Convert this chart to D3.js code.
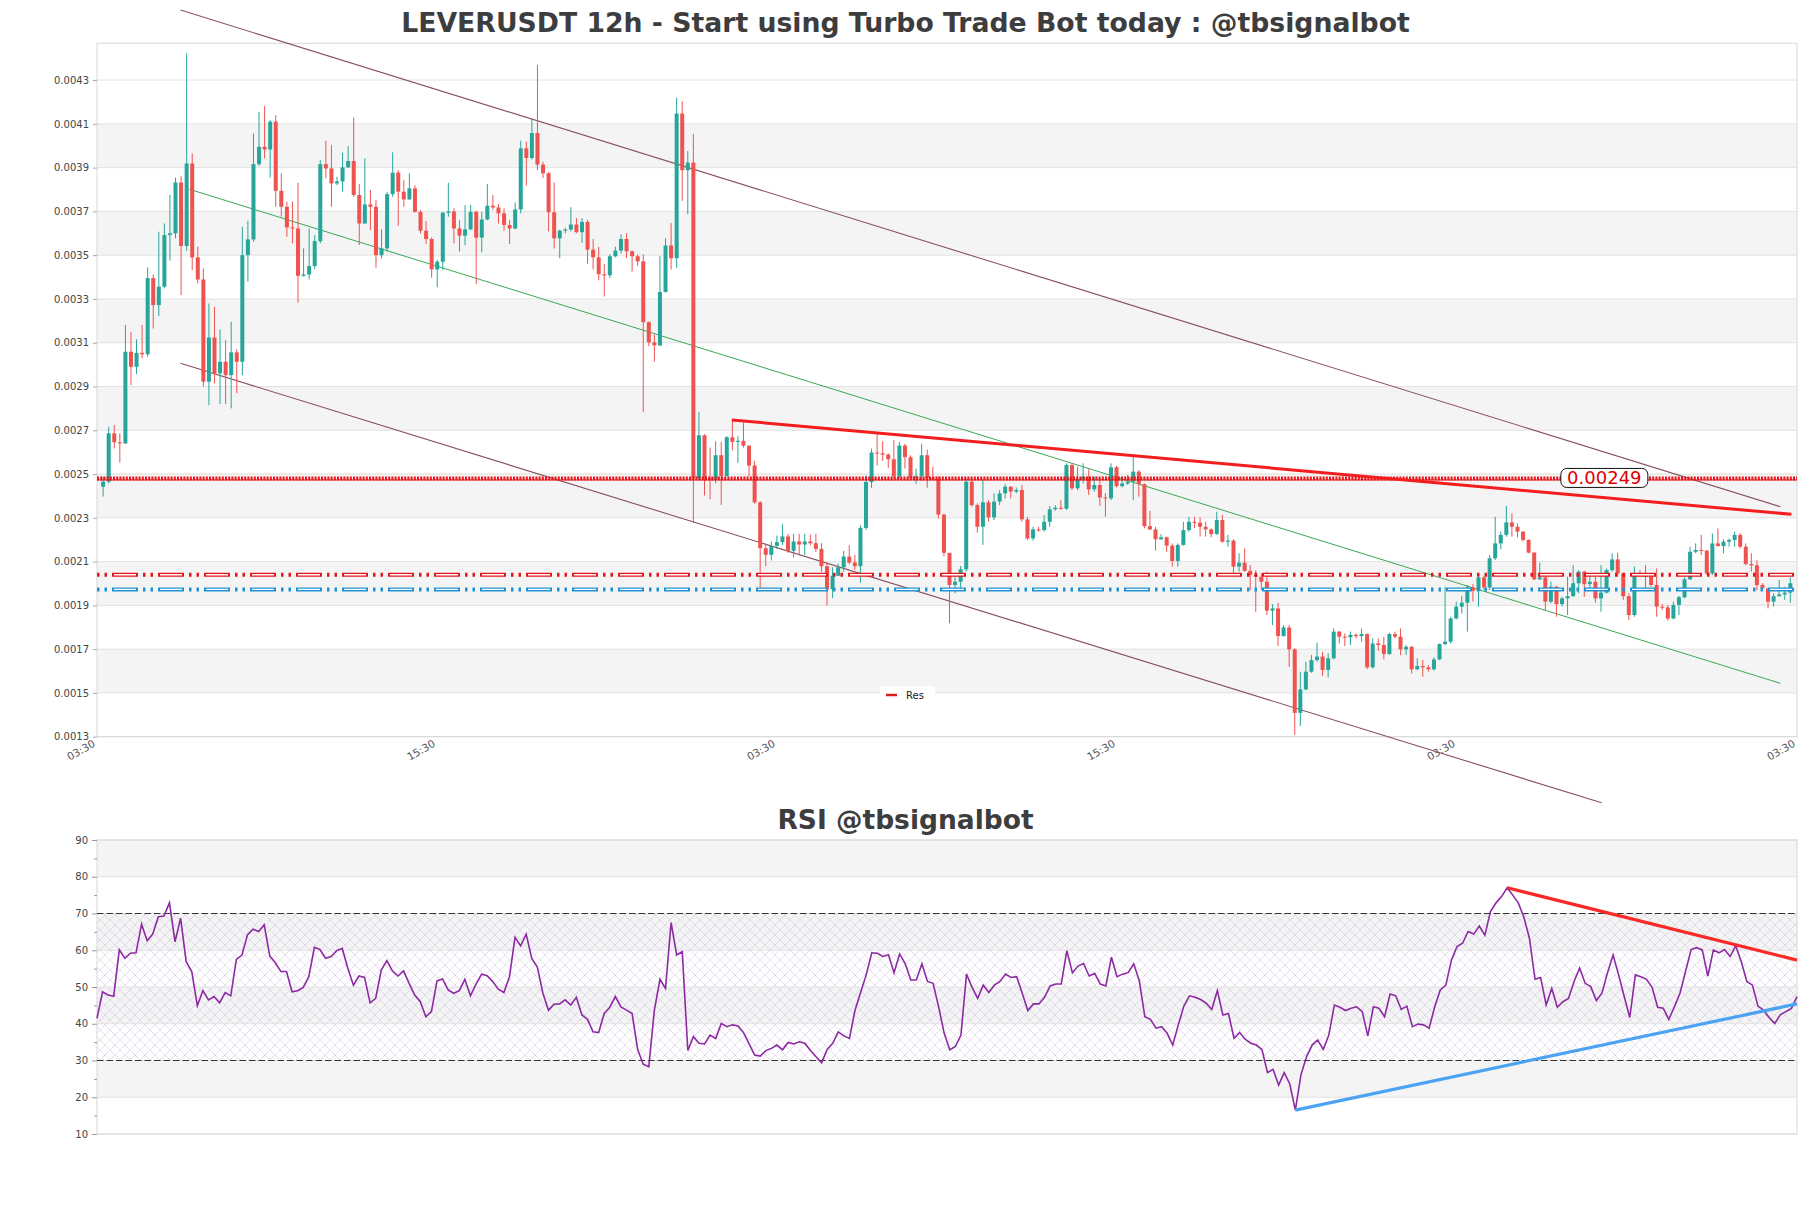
<!DOCTYPE html>
<html>
<head>
<meta charset="utf-8">
<script src="https://cdn.jsdelivr.net/npm/d3@7.9.0/dist/d3.min.js"></script>
<style>
  body { margin: 0; background: #fff; }
  svg { display: block; font-family: "DejaVu Sans", sans-serif; }
</style>
</head>
<body>
<svg id="chart" width="1811" height="1208"></svg>
<script>
// candles, one every 12h (price in USDT)
const opens = [.002442,
.002465,.002686,.002645,.002640,.003059,.002990,.003054,.003047,.003395,.003272,
.003356,.003592,.003600,.003832,.003542,.003919,.003490,.003389,.002922,.003124,
.002960,.003013,.002952,.003056,.003013,.003500,.003572,.003916,.003995,.003983,
.004110,.003794,.003721,.003627,.003622,.003406,.003412,.003450,.003564,.003916,
.003896,.003828,.003837,.003901,.003930,.003775,.003645,.003732,.003721,.003500,
.003531,.003779,.003877,.003790,.003755,.003805,.003698,.003612,.003574,.003435,
.003470,.003694,.003700,.003622,.003589,.003618,.003698,.003580,.003663,.003726,
.003718,.003691,.003638,.003622,.003709,.003988,.003944,.004058,.003914,.003874,
.003696,.003577,.003612,.003617,.003640,.003605,.003652,.003525,.003490,.003413,
.003408,.003495,.003521,.003574,.003518,.003495,.003472,.003194,.003102,.003088,
.003332,.003544,.003486,.004147,.003888,.003923,.002481,.002677,.002481,.002476,
.002586,.002490,.002668,.002647,.002652,.002630,.002539,.002371,.002161,.002131,
.002172,.002189,.002215,.002149,.002192,.002178,.002192,.002184,.002158,.002079,
.001974,.002035,.002074,.002123,.002096,.002079,.002254,.002464,.002598,.002595,
.002589,.002568,.002490,.002630,.002577,.002481,.002490,.002586,.002481,.002476,
.002315,.002140,.001993,.002008,.002065,.002465,.002358,.002259,.002371,.002302,
.002374,.002412,.002442,.002420,.002427,.002293,.002206,.002247,.002244,.002282,
.002339,.002346,.002342,.002541,.002435,.002476,.002488,.002430,.002450,.002393,
.002389,.002531,.002445,.002457,.002465,.002511,.002454,.002262,.002247,.002202,
.002211,.002173,.002103,.002176,.002244,.002282,.002278,.002259,.002247,.002226,
.002290,.002191,.002196,.002077,.002095,.002058,.002039,.002031,.002008,.001876,
.001886,.001760,.001799,.001699,.001409,.001516,.001597,.001650,.001666,.001605,
.001658,.001780,.001757,.001754,.001765,.001760,.001769,.001617,.001726,.001719,
.001678,.001769,.001757,.001699,.001711,.001608,.001623,.001617,.001608,.001653,
.001723,.001734,.001840,.001894,.001912,.001982,.001967,.002028,.001982,.002115,
.002183,.002222,.002279,.002259,.002237,.002199,.002141,.002019,.002028,.001917,
.001985,.001906,.001932,.001942,.002001,.002054,.001997,.002008,.001932,.001958,
.002061,.002110,.002046,.001942,.001856,.002046,.002039,.002031,.001993,.001894,
.001891,.001840,.001902,.001937,.002019,.002145,.002153,.002150,.002046,.002183,
.002171,.002191,.002199,.002222,.002168,.002089,.002083,.001993,.001978,.001917,
.001942,.001950,.001958];

const highs = [
.002488,.002716,.002724,.002686,.003181,.003150,.003115,.003181,.003444,.003412,
.003607,.003645,.003775,.003855,.003861,.004422,.003965,.003539,.003439,.003279,
.003264,.003161,.003112,.003196,.003070,.003630,.003657,.004056,.004155,.004181,
.004117,.004140,.003874,.003744,.003744,.003831,.003531,.003622,.003592,.003934,
.004023,.004003,.003858,.003968,.003998,.004129,.003825,.003942,.003798,.003752,
.003618,.003790,.003970,.003889,.003843,.003874,.003820,.003706,.003656,.003581,
.003478,.003698,.003831,.003714,.003660,.003729,.003729,.003703,.003698,.003825,
.003775,.003734,.003714,.003660,.003741,.004023,.004019,.004124,.004369,.003927,
.003880,.003832,.003617,.003626,.003719,.003670,.003670,.003661,.003574,.003538,
.003460,.003504,.003539,.003595,.003600,.003521,.003504,.003504,.003198,.003137,
.003495,.003577,.003647,.004220,.004203,.003976,.004054,.002783,.002682,.002621,
.002650,.002647,.002673,.002743,.002673,.002734,.002630,.002560,.002376,.002178,
.002192,.002219,.002271,.002227,.002227,.002227,.002227,.002224,.002227,.002184,
.002096,.002074,.002091,.002149,.002175,.002131,.002266,.002493,.002616,.002682,
.002650,.002595,.002655,.002647,.002638,.002586,.002525,.002638,.002612,.002533,
.002490,.002318,.002138,.002031,.002080,.002480,.002473,.002366,.002473,.002381,
.002412,.002427,.002454,.002445,.002439,.002450,.002305,.002259,.002259,.002313,
.002354,.002358,.002381,.002549,.002549,.002534,.002549,.002521,.002488,.002473,
.002412,.002549,.002537,.002488,.002496,.002582,.002518,.002457,.002332,.002259,
.002226,.002214,.002183,.002183,.002282,.002305,.002305,.002302,.002282,.002252,
.002328,.002313,.002222,.002202,.002138,.002160,.002084,.002061,.002046,.002054,
.001906,.001912,.001810,.001810,.001704,.001597,.001643,.001673,.001730,.001688,
.001681,.001795,.001784,.001772,.001780,.001772,.001795,.001772,.001749,.001749,
.001757,.001775,.001780,.001795,.001719,.001714,.001658,.001650,.001627,.001663,
.001726,.001985,.001848,.001917,.001943,.001993,.001997,.002031,.002035,.002130,
.002305,.002237,.002354,.002320,.002275,.002237,.002202,.002145,.002095,.002031,
.002008,.001988,.001940,.002031,.002084,.002061,.002058,.002046,.002031,.002084,
.002069,.002138,.002141,.002049,.001955,.002077,.002061,.002084,.002046,.002069,
.001906,.001902,.001917,.001943,.002028,.002168,.002183,.002222,.002153,.002229,
.002252,.002202,.002206,.002237,.002229,.002183,.002138,.002107,.002001,.001978,
.001955,.002016,.001985,.002028];

const lows = [
.002397,.002457,.002617,.002552,.002637,.002906,.002957,.003028,.003036,.003165,
.003222,.003348,.003475,.003577,.003318,.003520,.003432,.003371,.002899,.002815,
.002914,.002820,.002820,.002800,.002869,.002952,.003379,.003561,.003907,.003942,
.003855,.003721,.003676,.003584,.003554,.003283,.003402,.003389,.003435,.003554,
.003851,.003721,.003820,.003790,.003900,.003767,.003546,.003641,.003615,.003443,
.003485,.003516,.003767,.003635,.003721,.003752,.003694,.003599,.003551,.003397,
.003353,.003432,.003676,.003554,.003516,.003546,.003615,.003368,.003513,.003660,
.003706,.003645,.003612,.003551,.003618,.003691,.003818,.003937,.003888,.003853,
.003609,.003530,.003486,.003600,.003609,.003600,.003556,.003460,.003434,.003385,
.003311,.003395,.003490,.003507,.003486,.003425,.003451,.002783,.003084,.003014,
.003084,.003329,.003434,.003442,.003748,.003687,.002276,.002472,.002402,.002385,
.002458,.002359,.002490,.002608,.002551,.002621,.002490,.002364,.001979,.002079,
.002105,.002158,.002175,.002140,.002119,.002131,.002131,.002175,.002144,.002053,
.001899,.001934,.002044,.002053,.002088,.002062,.002004,.002245,.002437,.002539,
.002560,.002528,.002481,.002481,.002525,.002472,.002455,.002472,.002437,.002472,
.002297,.002123,.001818,.001955,.001970,.002054,.002351,.002232,.002176,.002282,
.002290,.002358,.002389,.002389,.002412,.002282,.002199,.002196,.002237,.002237,
.002259,.002333,.002336,.002336,.002427,.002427,.002457,.002404,.002419,.002354,
.002305,.002381,.002439,.002439,.002450,.002381,.002397,.002252,.002244,.002150,
.002199,.002145,.002077,.002077,.002173,.002237,.002252,.002214,.002214,.002211,
.002222,.002186,.002168,.002049,.002054,.002054,.001970,.001871,.001970,.001856,
.001810,.001714,.001757,.001620,.001308,.001349,.001513,.001592,.001643,.001577,
.001571,.001653,.001726,.001714,.001719,.001749,.001734,.001608,.001612,.001693,
.001653,.001673,.001749,.001673,.001673,.001589,.001605,.001574,.001597,.001602,
.001650,.001719,.001726,.001836,.001863,.001780,.001917,.001894,.001970,.001970,
.002107,.002156,.002214,.002214,.002211,.002191,.002138,.002016,.002016,.001879,
.001909,.001848,.001894,.001856,.001939,.001955,.001939,.001970,.001912,.001871,
.001955,.002054,.002031,.001925,.001833,.001848,.002031,.001978,.001985,.001848,
.001879,.001830,.001836,.001856,.001932,.002016,.002138,.002130,.002039,.002039,
.002168,.002138,.002168,.002168,.002160,.002084,.002054,.001970,.001967,.001886,
.001894,.001940,.001925,.001912];

const closes = [
.002465,.002686,.002645,.002640,.003059,.002990,.003054,.003047,.003395,.003272,
.003356,.003592,.003600,.003832,.003542,.003919,.003490,.003389,.002922,.003124,
.002960,.003013,.002952,.003056,.003013,.003500,.003572,.003916,.003995,.003983,
.004110,.003794,.003721,.003627,.003622,.003406,.003412,.003450,.003564,.003916,
.003896,.003828,.003837,.003901,.003930,.003775,.003645,.003732,.003721,.003500,
.003531,.003779,.003877,.003790,.003755,.003805,.003698,.003612,.003574,.003435,
.003470,.003694,.003700,.003622,.003589,.003618,.003698,.003580,.003663,.003726,
.003718,.003691,.003638,.003622,.003709,.003988,.003944,.004058,.003914,.003874,
.003696,.003577,.003612,.003617,.003640,.003605,.003652,.003525,.003490,.003413,
.003408,.003495,.003521,.003574,.003518,.003495,.003472,.003194,.003102,.003088,
.003332,.003544,.003486,.004147,.003888,.003923,.002481,.002677,.002481,.002476,
.002586,.002490,.002668,.002647,.002652,.002630,.002539,.002371,.002161,.002131,
.002172,.002189,.002215,.002149,.002192,.002178,.002192,.002184,.002158,.002079,
.001974,.002035,.002074,.002123,.002096,.002079,.002254,.002464,.002598,.002595,
.002589,.002568,.002490,.002630,.002577,.002481,.002490,.002586,.002481,.002476,
.002315,.002140,.001993,.002008,.002065,.002465,.002358,.002259,.002371,.002302,
.002374,.002412,.002442,.002420,.002427,.002293,.002206,.002247,.002244,.002282,
.002339,.002346,.002342,.002541,.002435,.002476,.002488,.002430,.002450,.002393,
.002389,.002531,.002445,.002457,.002465,.002511,.002454,.002262,.002247,.002202,
.002211,.002173,.002103,.002176,.002244,.002282,.002278,.002259,.002247,.002226,
.002290,.002191,.002196,.002077,.002095,.002058,.002039,.002031,.002008,.001876,
.001886,.001760,.001799,.001699,.001409,.001516,.001597,.001650,.001666,.001605,
.001658,.001780,.001757,.001754,.001765,.001760,.001769,.001617,.001726,.001719,
.001678,.001769,.001757,.001699,.001711,.001608,.001623,.001617,.001608,.001653,
.001723,.001734,.001840,.001894,.001912,.001982,.001967,.002028,.001982,.002115,
.002183,.002222,.002279,.002259,.002237,.002199,.002141,.002019,.002028,.001917,
.001985,.001906,.001932,.001942,.002001,.002054,.001997,.002008,.001932,.001958,
.002061,.002110,.002046,.001942,.001856,.002046,.002039,.002031,.001993,.001894,
.001891,.001840,.001902,.001937,.002019,.002145,.002153,.002150,.002046,.002183,
.002171,.002191,.002199,.002222,.002168,.002089,.002083,.001993,.001978,.001917,
.001942,.001950,.001958,.002001];

const rsi = [
41.5,48.7,47.8,47.5,60.1,57.8,59.2,59.3,67.1,62.6,
64.4,69.1,69.3,72.9,62.3,68.7,56.9,54.2,44.9,49.0,
46.5,47.4,45.7,48.5,47.6,57.5,58.7,64.2,65.7,65.1,
66.9,58.4,56.6,54.2,54.2,48.7,49.0,49.9,52.8,60.8,
60.2,57.8,58.3,59.9,60.5,55.1,50.5,53.0,52.6,45.7,
46.9,54.6,57.2,54.4,53.0,54.4,51.0,47.8,46.0,41.9,
43.3,51.7,52.2,49.2,48.3,49.0,52.1,47.6,50.8,53.5,
53.1,51.5,49.4,48.5,52.8,63.5,61.2,64.4,57.8,55.4,
48.3,43.7,45.3,45.4,46.5,45.1,47.2,42.4,41.2,37.8,
37.6,42.8,44.5,47.4,44.6,43.7,42.8,33.0,29.0,28.3,
43.7,52.1,49.6,67.5,58.7,59.6,32.7,36.5,34.7,34.5,
36.9,36.0,40.1,39.2,39.7,39.4,37.6,34.5,31.5,31.2,
32.7,33.3,34.2,32.9,34.9,34.5,35.1,34.7,32.7,31.0,
29.4,33.0,34.7,37.8,36.7,36.0,43.7,48.5,53.3,59.3,
59.2,58.3,58.8,53.9,59.0,56.4,51.9,51.9,56.3,51.5,
51.0,44.6,37.4,32.9,33.8,36.9,53.5,49.9,46.9,50.5,
48.5,50.5,51.5,53.5,52.6,52.8,48.3,43.6,45.4,45.4,
47.2,50.3,50.8,50.8,59.9,53.9,55.7,56.4,53.0,53.7,
50.8,50.3,58.1,52.8,53.5,53.9,56.3,51.7,41.9,41.2,
38.8,39.2,37.4,34.2,39.7,44.8,47.6,47.2,46.6,45.6,
43.9,49.0,42.4,42.8,36.0,37.6,35.8,34.7,34.2,33.0,
26.7,27.6,23.3,26.7,23.6,16.5,26.1,31.0,34.2,35.6,
33.0,36.9,45.1,44.5,43.6,44.2,44.6,43.3,36.7,44.6,
44.2,41.9,48.1,47.6,43.9,44.8,39.2,39.9,39.7,38.8,
44.6,49.2,50.5,57.3,61.0,61.9,65.1,64.4,66.6,64.1,
70.5,72.9,74.6,77.0,75.0,72.9,69.0,63.2,52.1,52.6,
45.1,49.6,44.5,46.0,46.9,51.5,55.1,51.0,50.1,46.3,
48.3,53.9,58.7,53.3,47.4,41.7,53.3,52.8,52.1,49.9,
44.5,44.2,41.2,44.6,48.3,54.2,60.2,60.7,60.1,53.0,
60.1,59.3,60.2,58.3,61.2,56.9,51.5,50.5,44.8,43.7,
41.7,40.1,42.4,43.3,44.2,47.4];

const priceTicks = [0.0013,0.0015,0.0017,0.0019,0.0021,0.0023,0.0025,0.0027,0.0029,0.0031,0.0033,0.0035,0.0037,0.0039,0.0041,0.0043];
const rsiTicks = [10,20,30,40,50,60,70,80,90];
const xTickLabels = ['03:30','15:30','03:30','15:30','03:30','03:30'];

// drawn lines: [candle index, price]
const upperChannel = [[13.9, 0.004620], [301.2, 0.002351]];
const lowerChannel = [[13.9, 0.003006], [269.1, 0.000998]];
const midChannel   = [[15.5, 0.003801], [301.2, 0.001544]];
const resTrend     = [[112.9, 0.002747], [303.2, 0.002316]];
const resLevel = 0.00248, resLabel = '0.00249';
const redLevel = 0.00204, blueLevel = 0.001973;
// rsi lines: [rsi index, value]
const rsiRes = [[253, 77.0], [305, 57.3]];
const rsiSup = [[215, 16.5], [305, 45.4]];

const UP = '#26a69a', DOWN = '#ef5350';
const main = { left: 97, right: 1797, top: 43.3, bottom: 736.7 };
const sub = { left: 97, right: 1797, top: 840, bottom: 1134 };

const svg = d3.select('#chart');
const x = d3.scaleLinear().domain([-1.1, 304.2]).range([main.left, main.right]);
const y = d3.scaleLinear().domain([0.0013, 0.004468]).range([main.bottom, main.top]);
const xr = d3.scaleLinear().domain([0, rsi.length - 1]).range([sub.left, sub.right]);
const yr = d3.scaleLinear().domain([10, 90]).range([sub.bottom, sub.top]);

const defs = svg.append('defs');
const pat = defs.append('pattern').attr('id', 'hatch')
  .attr('width', 10).attr('height', 10).attr('patternUnits', 'userSpaceOnUse');
pat.append('path').attr('d', 'M0,0L10,10M10,0L0,10')
  .attr('stroke', '#cdbfdc').attr('stroke-width', 0.5).attr('fill', 'none');

// ---------- price panel ----------
const gMain = svg.append('g');
priceTicks.forEach((t, k) => {
  if (k % 2 === 1 && k < priceTicks.length - 1) {
    gMain.append('rect').attr('x', main.left).attr('width', main.right - main.left)
      .attr('y', y(priceTicks[k + 1])).attr('height', y(t) - y(priceTicks[k + 1]))
      .attr('fill', '#f4f4f4');
  }
});
gMain.selectAll('line.grid').data(priceTicks).join('line').attr('class', 'grid')
  .attr('x1', main.left).attr('x2', main.right)
  .attr('y1', d => y(d)).attr('y2', d => y(d))
  .attr('stroke', '#e2e2e2');
gMain.append('rect').attr('x', main.left).attr('y', main.top)
  .attr('width', main.right - main.left).attr('height', main.bottom - main.top)
  .attr('fill', 'none').attr('stroke', '#d8d8d8');

gMain.append('g').attr('transform', `translate(${main.left},0)`)
  .call(d3.axisLeft(y).tickValues(priceTicks).tickFormat(d3.format('.4f')).tickSize(4).tickPadding(4))
  .call(g => {
    g.select('.domain').remove();
    g.selectAll('line').attr('stroke', '#aaa');
    g.selectAll('text').attr('fill', '#444').style('font-size', '10px').style('font-family', 'DejaVu Sans');
  });

const xTickPos = xTickLabels.map((_, k) => x.domain()[0] + k * (x.domain()[1] - x.domain()[0]) / (xTickLabels.length - 1));
gMain.selectAll('text.xt').data(xTickPos).join('text').attr('class', 'xt')
  .attr('transform', d => `translate(${x(d) - 1},${main.bottom + 9}) rotate(-30)`)
  .attr('text-anchor', 'end').attr('fill', '#555').style('font-size', '10.5px')
  .text((d, k) => xTickLabels[k]);

const seg = (pts, xs, ys) => d3.line().x(p => xs(p[0])).y(p => ys(p[1]))(pts);
gMain.append('path').attr('d', seg(upperChannel, x, y)).attr('stroke', '#8a4f5f').attr('stroke-width', 1.1).attr('fill', 'none');
gMain.append('path').attr('d', seg(lowerChannel, x, y)).attr('stroke', '#8a4f5f').attr('stroke-width', 1.1).attr('fill', 'none');
gMain.append('path').attr('d', seg(midChannel, x, y)).attr('stroke', '#3aa957').attr('stroke-width', 1).attr('fill', 'none');

const candles = closes.map((c, i) => ({ i, o: opens[i], h: highs[i], l: lows[i], c }));
const cg = gMain.append('g');
cg.selectAll('line').data(candles).join('line')
  .attr('x1', d => x(d.i)).attr('x2', d => x(d.i))
  .attr('y1', d => y(d.h)).attr('y2', d => y(d.l))
  .attr('stroke', d => d.c >= d.o ? UP : DOWN).attr('stroke-width', 1);
cg.selectAll('rect').data(candles).join('rect')
  .attr('x', d => x(d.i) - 2).attr('width', 4)
  .attr('y', d => y(Math.max(d.o, d.c)))
  .attr('height', d => Math.max(1, Math.abs(y(d.o) - y(d.c))))
  .attr('fill', d => d.c >= d.o ? UP : DOWN);

// horizontal levels
function patternLevel(v, color) {
  const yy = y(v);
  gMain.append('line').attr('x1', main.left).attr('x2', main.right).attr('y1', yy).attr('y2', yy)
    .attr('stroke', color).attr('stroke-width', 4).attr('stroke-dasharray', '2.5 5 2.5 5 26 5');
  gMain.append('line').attr('x1', main.left).attr('x2', main.right).attr('y1', yy).attr('y2', yy)
    .attr('stroke', '#fff').attr('stroke-width', 1.3).attr('stroke-dasharray', '0 17 22 7');
}
patternLevel(redLevel, '#e3161b');
patternLevel(blueLevel, '#1f93d6');
const ry = y(resLevel);
gMain.append('line').attr('x1', main.left).attr('x2', main.right).attr('y1', ry).attr('y2', ry)
  .attr('stroke', '#e3161b').attr('stroke-width', 4).attr('stroke-dasharray', '2 1.2');
gMain.append('line').attr('x1', main.left).attr('x2', main.right).attr('y1', ry + 1.5).attr('y2', ry + 1.5)
  .attr('stroke', '#e3161b').attr('stroke-width', 1);

gMain.append('path').attr('d', seg(resTrend, x, y)).attr('stroke', '#f41d1d').attr('stroke-width', 3).attr('fill', 'none');

// level label
const lx = x(269.6);
gMain.append('rect').attr('x', lx - 43.5).attr('y', ry - 10).attr('width', 87).attr('height', 19)
  .attr('rx', 6).attr('fill', '#fff').attr('stroke', '#111').attr('stroke-width', 1);
gMain.append('text').attr('x', lx).attr('y', ry + 6).attr('text-anchor', 'middle')
  .attr('fill', '#e00000').style('font-size', '18px').text(resLabel);

// legend
const lg = gMain.append('g').attr('transform', `translate(880,686)`);
lg.append('rect').attr('width', 55).attr('height', 17).attr('rx', 4).attr('fill', '#fff');
lg.append('line').attr('x1', 6).attr('x2', 17).attr('y1', 9).attr('y2', 9).attr('stroke', '#d62020').attr('stroke-width', 2.5);
lg.append('text').attr('x', 26).attr('y', 12.5).attr('fill', '#222').style('font-size', '10px').text('Res');

svg.append('text').attr('x', 905.5).attr('y', 32).attr('text-anchor', 'middle')
  .attr('fill', '#3d3d3d').style('font-size', '26.7px').style('font-weight', 'bold')
  .text('LEVERUSDT 12h - Start using Turbo Trade Bot today : @tbsignalbot');

// ---------- RSI panel ----------
const gSub = svg.append('g');
rsiTicks.forEach((t, k) => {
  if (k % 2 === 1 && k < rsiTicks.length - 1) {
    gSub.append('rect').attr('x', sub.left).attr('width', sub.right - sub.left)
      .attr('y', yr(rsiTicks[k + 1])).attr('height', yr(t) - yr(rsiTicks[k + 1]))
      .attr('fill', '#f4f4f4');
  }
});
gSub.append('rect').attr('x', sub.left).attr('width', sub.right - sub.left)
  .attr('y', yr(70)).attr('height', yr(30) - yr(70)).attr('fill', 'url(#hatch)');
gSub.selectAll('line.grid').data(rsiTicks).join('line').attr('class', 'grid')
  .attr('x1', sub.left).attr('x2', sub.right)
  .attr('y1', d => yr(d)).attr('y2', d => yr(d))
  .attr('stroke', '#e2e2e2');
gSub.append('rect').attr('x', sub.left).attr('y', sub.top)
  .attr('width', sub.right - sub.left).attr('height', sub.bottom - sub.top)
  .attr('fill', 'none').attr('stroke', '#d8d8d8');
[70, 30].forEach(v => {
  gSub.append('line').attr('x1', sub.left).attr('x2', sub.right).attr('y1', yr(v)).attr('y2', yr(v))
    .attr('stroke', '#333').attr('stroke-width', 1.2).attr('stroke-dasharray', '6.5 3');
});

gSub.append('g').attr('transform', `translate(${sub.left},0)`)
  .call(d3.axisLeft(yr).tickValues(rsiTicks).tickSize(5).tickPadding(4))
  .call(g => {
    g.select('.domain').remove();
    g.selectAll('line').attr('stroke', '#999');
    g.selectAll('text').attr('fill', '#444').style('font-size', '10px').style('font-family', 'DejaVu Sans');
  });
gSub.append('g').attr('transform', `translate(${sub.left},0)`)
  .call(d3.axisLeft(yr).tickValues(rsiTicks.slice(0, -1).map(t => t + 5)).tickSize(3).tickFormat(''))
  .call(g => { g.select('.domain').remove(); g.selectAll('line').attr('stroke', '#999'); });

gSub.append('path').datum(rsi)
  .attr('d', d3.line().x((d, k) => xr(k)).y(d => yr(d)))
  .attr('fill', 'none').attr('stroke', '#8d2aa3').attr('stroke-width', 1.6);

gSub.append('path').attr('d', seg(rsiRes, xr, yr)).attr('stroke', '#fb2a2a').attr('stroke-width', 3.2).attr('fill', 'none');
gSub.append('path').attr('d', seg(rsiSup, xr, yr)).attr('stroke', '#4ca3f2').attr('stroke-width', 3.2).attr('fill', 'none');

svg.append('text').attr('x', 905.5).attr('y', 829).attr('text-anchor', 'middle')
  .attr('fill', '#3d3d3d').style('font-size', '26.5px').style('font-weight', 'bold')
  .text('RSI @tbsignalbot');
</script>
</body>
</html>
